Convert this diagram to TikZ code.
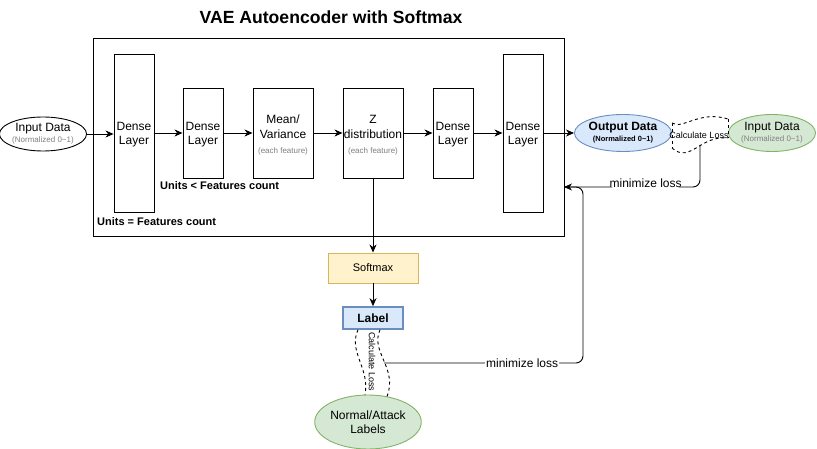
\documentclass[tikz,border=0pt]{standalone}
\usepackage{fontspec}
\setmainfont{Liberation Sans}
\usetikzlibrary{arrows.meta,shapes.geometric,calc}
\definecolor{blueF}{HTML}{DAE8FC}
\definecolor{blueD}{HTML}{6C8EBF}
\definecolor{greenF}{HTML}{D5E8D4}
\definecolor{greenD}{HTML}{82B366}
\definecolor{yelF}{HTML}{FFF2CC}
\definecolor{yelD}{HTML}{D6B656}
\definecolor{subgray}{HTML}{808080}
\newcommand{\fs}[1]{\fontsize{#1}{\dimexpr #1pt*6/5\relax}\selectfont}
\newcommand{\shiftdown}[2]{\raisebox{-#1}[\height][\depth]{\begin{tabular}{@{}c@{}}#2\end{tabular}}}
\begin{document}
\begin{tikzpicture}[x=1pt,y=-1pt,
  layerbox/.style={draw, line width=0.9pt, inner sep=0pt, align=center, font=\fs{12}},
  ell/.style={draw, ellipse, line width=0.9pt, inner sep=0pt, align=center},
  arr/.style={-{Stealth[length=8pt,width=7pt,inset=2.5pt]}, line width=0.9pt},
  ln/.style={line width=0.9pt},
  dsh/.style={dashed, line width=0.9pt},
  boldtxt/.style={font=\bfseries\fs{11}, anchor=west, inner sep=0pt}
]
\useasboundingbox (0,0) rectangle (817,449);
\fill[white] (0,0) rectangle (817,449);

\node[font=\bfseries\fs{17.6}] (title) at (331,17) {VAE Autoencoder with Softmax};

\draw[ln] (93,38) rectangle (564,236);
\coordinate (frameR) at (564,187);

\node[ell, minimum width=80pt, minimum height=34pt] (in) at (43,134)
  {{\fs{12}Input Data}\\[-1pt]{\fs{8}\color{subgray}(Normalized 0\textasciitilde1)}};

\node[layerbox, minimum width=40pt, minimum height=158pt] (d1) at (134,133) {\shiftdown{1.5pt}{Dense\\Layer}};
\node[layerbox, minimum width=40pt, minimum height=90pt] (d2) at (203,133) {\shiftdown{1.5pt}{Dense\\Layer}};
\node[layerbox, minimum width=60pt, minimum height=90pt] (mv) at (283,133)
  {\shiftdown{3pt}{Mean/\\Variance\\[1pt]{\fs{8}\color{subgray}(each feature)}}};
\node[layerbox, minimum width=60pt, minimum height=90pt] (z) at (373,133)
  {\shiftdown{3pt}{Z\\distribution\\[1pt]{\fs{8}\color{subgray}(each feature)}}};
\node[layerbox, minimum width=40pt, minimum height=90pt] (d3) at (453,133) {\shiftdown{1.5pt}{Dense\\Layer}};
\node[layerbox, minimum width=40pt, minimum height=158pt] (d4) at (523,133) {\shiftdown{1.5pt}{Dense\\Layer}};

\node[boldtxt] (u1) at (160,186) {Units < Features count};
\node[boldtxt] (u2) at (97,222) {Units = Features count};

\node[ell, fill=blueF, draw=blueD, minimum width=80pt, minimum height=37pt] (out) at (623,133)
  {{\bfseries\fs{12}Output Data}\\[-1pt]{\bfseries\fs{7.5}(Normalized 0\textasciitilde1)}};
\node[ell, fill=greenF, draw=greenD, minimum width=78pt, minimum height=37pt] (in2) at (772,133)
  {{\fs{12}Input Data}\\[-1pt]{\fs{8}\color{subgray}(Normalized 0\textasciitilde1)}};

\node[draw=yelD, fill=yelF, line width=0.9pt, minimum width=90pt, minimum height=30pt, font=\fs{11}] (sm) at (373,268) {Softmax};
\node[draw=blueD, fill=blueF, line width=1.6pt, minimum width=60pt, minimum height=22pt, font=\bfseries\fs{12}] (lab) at (373,318) {Label};
\node[ell, fill=greenF, draw=greenD, minimum width=100pt, minimum height=54pt, font=\fs{12}] (nal) at (368,422) {Normal/Attack\\Labels};

% main flow arrows
\draw[arr] (in.east) -- (in.east -| d1.west);
\draw[arr] (d1.east |- d2.west) -- (d2.west);
\draw[arr] (d2.east) -- (mv.west);
\draw[arr] (mv.east) -- (z.west);
\draw[arr] (z.east) -- (d3.west);
\draw[arr] (d3.east) -- (d4.west |- d3.east);
\draw[arr] (d4.east |- out.west) -- (out.west);
\draw[arr] (z.south) -- (sm.north);
\draw[arr] (sm.south) -- (lab.north);

% horizontal calculate-loss link
\coordinate (ht1) at ($(out.east)+(0,-10)$);
\coordinate (hb1) at ($(out.east)+(0,15)$);
\coordinate (ht2) at ($(in2.west)+(0,-14)$);
\coordinate (hb2) at ($(in2.west)+(0,5)$);
\draw[dsh] (ht1) .. controls (682,130) and (700,110) .. (ht2);
\draw[dsh] (hb1) .. controls (690,164) and (700,135) .. (hb2);
\draw[dsh] (ht1) -- (hb1);
\draw[dsh] (ht2) -- (hb2);
\node[font=\fs{9}, inner sep=0pt] (cl1) at (699,135) {Calculate Loss};

% vertical calculate-loss link
\coordinate (vl1) at ($(lab.south)+(-15,0)$);
\coordinate (vr1) at ($(lab.south)+(7,0)$);
\coordinate (vl2) at ($(nal.north)+(-3,0)$);
\coordinate (vr2) at ($(nal.north)+(19,2)$);
\draw[dsh] (vl1) .. controls (348,352) and (370,368) .. (vl2);
\draw[dsh] (vr1) .. controls (370,352) and (398,368) .. (vr2);
\node[font=\fs{9}, rotate=-90, inner sep=0pt] (cl2) at (372,362) {Calculate Loss};

% minimize loss feedback
\coordinate (ml1) at (700,145);
\coordinate (ml2) at (384,363);
\draw[arr, rounded corners=7pt] (ml1) |- node[pos=0.70, yshift=4pt, fill=white, inner sep=1pt, font=\fs{12}] {minimize loss} (frameR);
\draw[ln, rounded corners=7pt] (ml2) -| node[pos=0.347, fill=white, inner sep=1pt, font=\fs{12}] {minimize loss} (583,187) -- (frameR);
\end{tikzpicture}
\end{document}
